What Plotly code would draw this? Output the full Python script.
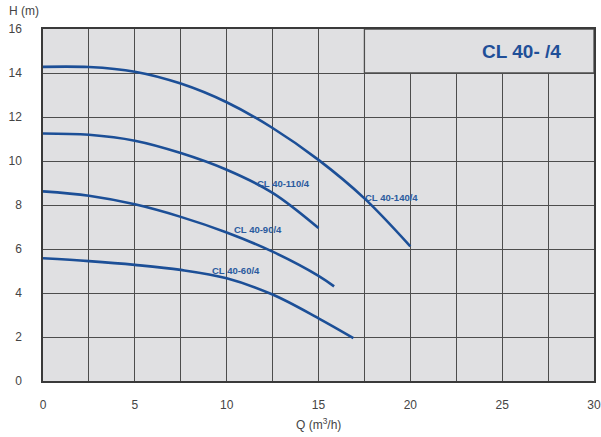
import plotly.graph_objects as go

# Data
Q140 = [0, 2.5, 5, 7.5, 10, 12.5, 15, 17.5, 20]
H140 = [14.28, 14.27, 14.06, 13.52, 12.67, 11.5, 10.05, 8.3, 6.12]
Q110 = [0, 2.5, 5, 7.5, 10, 12.5, 15]
H110 = [11.25, 11.19, 10.92, 10.36, 9.6, 8.55, 6.95]
Q90 = [0, 2.5, 5, 7.5, 10, 12.5, 15, 15.85]
H90 = [8.62, 8.42, 8.03, 7.46, 6.75, 5.88, 4.78, 4.3]
Q60 = [0, 2.5, 5, 7.5, 10, 12.5, 15, 16.9]
H60 = [5.58, 5.45, 5.28, 5.05, 4.67, 3.93, 2.85, 1.95]

series_names = ["CL 40-140/4", "CL 40-110/4", "CL 40-90/4", "CL 40-60/4"]
label_q = [18.95, 13.1, 11.7, 10.5]
label_h = [8.35, 8.99, 6.89, 5.04]

x_ticks = [0, 5, 10, 15, 20, 25, 30]
y_ticks = [0, 2, 4, 6, 8, 10, 12, 14, 16]

BLUE = "#1c4f97"
BG = "#e0e0e2"
GRID = "#4d4d4d"
TICKFONT = dict(family="Liberation Sans Narrow, Arial Narrow, Liberation Sans, Arial", size=12, color="#444444")

fig = go.Figure()
for q, h, name in zip([Q140, Q110, Q90, Q60], [H140, H110, H90, H60], series_names):
    fig.add_trace(go.Scatter(x=q, y=h, mode="lines", name=name,
                             line=dict(color=BLUE, width=2.6, shape="spline", smoothing=1.0),
                             showlegend=False, hoverinfo="skip"))

for name, lq, lh in zip(series_names, label_q, label_h):
    fig.add_annotation(x=lq, y=lh, text="<b>%s</b>" % name, showarrow=False,
                       font=dict(family="Liberation Sans, Arial", size=9.5, color="#2a5a9e"))

# Title box
fig.add_shape(type="rect", x0=17.5, x1=30, y0=14, y1=16, xref="x", yref="y",
              fillcolor=BG, line=dict(color=GRID, width=1.3), layer="above")
fig.add_annotation(x=26.05, y=15.0, text="<b>CL 40- /4</b>", showarrow=False,
                   font=dict(family="Liberation Sans, Arial", size=19, color="#1f4f98"))

# Axis titles
fig.add_annotation(x=-0.065, y=1.05, xref="paper", yref="paper", xanchor="left", yanchor="middle",
                   text="H (m)", showarrow=False, font=TICKFONT)
fig.add_annotation(x=15.0, y=-0.122, xref="x", yref="paper", xanchor="center", yanchor="middle",
                   text="Q (m<sup>3</sup>/h)", showarrow=False, font=TICKFONT)

fig.update_xaxes(range=[0, 30], tickvals=x_ticks, ticktext=[str(v) for v in x_ticks],
                 showgrid=True, gridcolor=GRID, gridwidth=1.3,
                 minor=dict(tickvals=[2.5, 7.5, 12.5, 17.5, 22.5, 27.5], showgrid=True,
                            gridcolor=GRID, gridwidth=1.3),
                 zeroline=False, showline=True, linecolor="#3a3a3a", linewidth=1.5, mirror=True,
                 ticks="", ticklabelstandoff=12, tickfont=TICKFONT, fixedrange=True, automargin=False)
fig.update_yaxes(range=[0, 16], tickvals=y_ticks, ticktext=[str(v) for v in y_ticks],
                 showgrid=True, gridcolor=GRID, gridwidth=1.3,
                 zeroline=False, showline=True, linecolor="#3a3a3a", linewidth=1.5, mirror=True,
                 ticks="", ticklabelstandoff=17, tickfont=TICKFONT, fixedrange=True, automargin=False)

fig.update_layout(width=601, height=437, margin=dict(l=43, r=7, t=29, b=56),
                  plot_bgcolor=BG, paper_bgcolor="white")

fig.write_html("out.html", config={"displayModeBar": False},
               post_script="document.body.style.margin='0';document.body.style.padding='0';"
                           "document.body.style.overflow='hidden';")
